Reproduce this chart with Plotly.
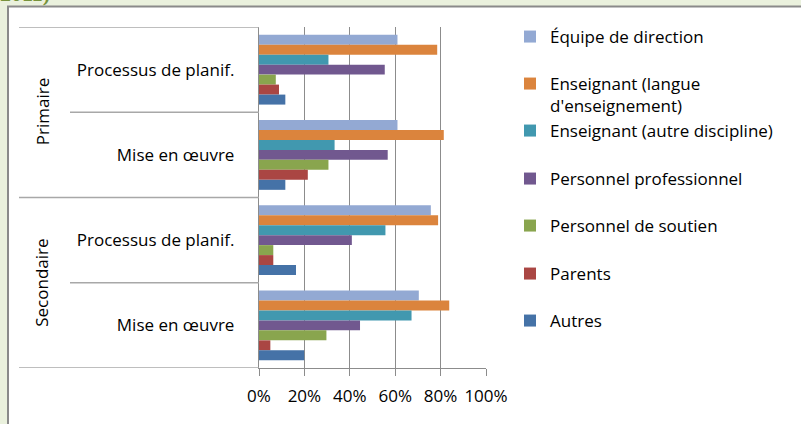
import plotly.graph_objects as go

# Categories (top to bottom) and their grouping level
levels = ["Primaire", "Primaire", "Secondaire", "Secondaire"]
stages = ["Processus de planif.", "Mise en œuvre", "Processus de planif.", "Mise en œuvre"]

# Share of respondents (%) for each actor, in category order above
equipe_direction = [61, 61, 75.7, 70.4]
ens_langue = [78.5, 81.4, 78.9, 83.8]
ens_autre = [30.6, 33.3, 55.7, 67.2]
pers_professionnel = [55.4, 56.7, 40.9, 44.5]
pers_soutien = [7.4, 30.6, 6.3, 29.7]
parents = [8.8, 21.5, 6.3, 5.0]
autres = [11.6, 11.6, 16.3, 19.9]

series_names = [
    "Équipe de direction",
    "Enseignant (langue<br>d'enseignement)",
    "Enseignant (autre discipline)",
    "Personnel professionnel",
    "Personnel de soutien",
    "Parents",
    "Autres",
]
series_values = [equipe_direction, ens_langue, ens_autre, pers_professionnel,
                 pers_soutien, parents, autres]
series_colors = ["#93A9D3", "#DB843D", "#4198AF", "#71588F", "#89A54E", "#AA4643", "#4572A7"]

x_ticks = [0, 20, 40, 60, 80, 100]
x_tick_labels = ["0%", "20%", "40%", "60%", "80%", "100%"]

W, H = 801, 424
L, R, T, B = 259, 486, 27, 368  # plot area in pixels


def px_x(p):
    return (p - L) / (R - L)


def px_y(p):
    return (B - p) / (B - T)


FONT = "Open Sans"
FS = 17
GRID = "#8C8C8C"
DIV = "#A8A8A8"

fig = go.Figure()
cat_pos = list(range(len(stages)))
legend_ids = ["legend"] + [f"legend{i}" for i in range(2, len(series_names) + 1)]
legend_centers = [37, 84, 131, 179, 226, 274, 321]

for name, vals, col, lid in zip(series_names, series_values, series_colors, legend_ids):
    fig.add_trace(go.Bar(
        name=name, y=cat_pos, x=vals, orientation="h",
        marker=dict(color=col, line=dict(width=0)),
        legend=lid, hoverinfo="x+name",
    ))

legend_layouts = {}
for lid, cy, name in zip(legend_ids, legend_centers, series_names):
    legend_layouts[lid] = dict(
        x=px_x(510), xanchor="left",
        y=px_y(cy - 18), yanchor="top",
        valign="top",
        bgcolor="rgba(0,0,0,0)", borderwidth=0,
        font=dict(family=FONT, size=FS, color="#000000"),
        itemclick=False, itemdoubleclick=False,
    )

shapes = []
# outer frame of the chart block
shapes.append(dict(type="rect", xref="paper", yref="paper",
                   x0=px_x(-5), x1=px_x(W + 5), y0=px_y(H + 5), y1=px_y(-5),
                   fillcolor="#EAF1DD", line=dict(width=0), layer="below"))
shapes.append(dict(type="rect", xref="paper", yref="paper",
                   x0=px_x(8), x1=px_x(W + 5), y0=px_y(H + 5), y1=px_y(6.5),
                   fillcolor="#FFFFFF", line=dict(width=0), layer="below"))
shapes.append(dict(type="line", xref="paper", yref="paper",
                   x0=px_x(7), x1=px_x(W + 5), y0=px_y(6.5), y1=px_y(6.5),
                   line=dict(color="#8A8A8A", width=2), layer="below"))
shapes.append(dict(type="line", xref="paper", yref="paper",
                   x0=px_x(8), x1=px_x(8), y0=px_y(H + 5), y1=px_y(6),
                   line=dict(color="#8A8A8A", width=2), layer="below"))

# category separators in the label area
for yb, xs in [(-0.5, 19), (0.5, 70), (1.5, 19), (2.5, 70), (3.5, 19)]:
    shapes.append(dict(type="line", xref="paper", yref="y",
                       x0=px_x(xs), x1=0, y0=yb, y1=yb,
                       line=dict(color=DIV, width=1.3)))

annotations = []
for grp, ymid in [("Primaire", 0.5), ("Secondaire", 2.5)]:
    annotations.append(dict(text=grp, xref="paper", yref="y", x=px_x(42), y=ymid,
                            textangle=-90, showarrow=False, xanchor="center", yanchor="middle",
                            font=dict(family=FONT, size=FS, color="#000000")))
annotations.append(dict(text="<b>2011)</b>", xref="paper", yref="paper",
                        x=px_x(-2), y=px_y(8), xanchor="left", yanchor="bottom",
                        showarrow=False, font=dict(family="Liberation Serif", size=22, color="#77933C")))

fig.update_layout(
    width=W, height=H,
    margin=dict(l=L, r=W - R, t=T, b=H - B),
    paper_bgcolor="#FFFFFF", plot_bgcolor="rgba(0,0,0,0)",
    barmode="group", bargap=0.18, bargroupgap=0,
    showlegend=True,
    shapes=shapes, annotations=annotations,
    font=dict(family=FONT, size=FS, color="#000000"),
    **legend_layouts,
)

fig.update_xaxes(
    range=[0, 100], tickvals=x_ticks, ticktext=x_tick_labels,
    showgrid=True, gridcolor=GRID, gridwidth=1.4,
    ticks="outside", ticklen=7, tickcolor=GRID, tickwidth=1.4,
    showline=True, linecolor=GRID, linewidth=1.4,
    zeroline=False, ticklabelstandoff=5,
    tickfont=dict(family=FONT, size=FS, color="#000000"),
    fixedrange=True,
)
fig.update_yaxes(
    range=[3.5, -0.5], tickvals=cat_pos, ticktext=stages,
    showgrid=False, zeroline=False, ticks="",
    showline=True, linecolor=GRID, linewidth=1.4,
    ticklabelstandoff=20,
    tickfont=dict(family=FONT, size=FS, color="#000000"),
    fixedrange=True,
)

fig.write_html("out.html")
